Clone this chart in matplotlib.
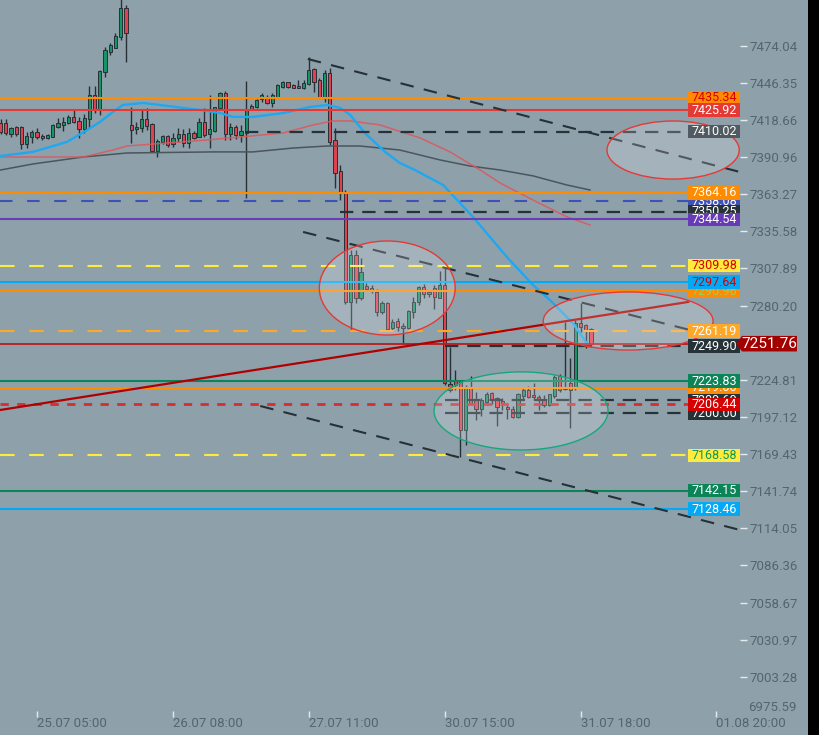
import matplotlib
matplotlib.use("Agg")
import numpy as np
import matplotlib.pyplot as plt
import matplotlib.transforms as mtransforms
from matplotlib.patches import Ellipse, Rectangle, Polygon

plt.rcParams['font.family'] = ['Roboto', 'DejaVu Sans']

# hourly candles (bar index = position)
opens = [7416.4, 7416.4, 7408.2, 7413.4, 7413.4, 7400.7, 7405.9, 7409.7, 7406.7, 7405.2,
         7405.9, 7413.4, 7414.9, 7416.4, 7420.9, 7417.9, 7411.9, 7419.4, 7437.3, 7426.1,
         7454.4, 7469.3, 7472.3, 7480.5, 7502.2, 7414.9, 7411.9, 7412.7, 7419.4, 7415.6,
         7395.5, 7402.2, 7406.7, 7400.7, 7405.2, 7408.2, 7401.5, 7408.9, 7405.9, 7417.1,
         7408.2, 7410.4, 7427.6, 7438.8, 7408.2, 7413.4, 7407.4, 7408.9, 7429.1, 7428.3,
         7434.3, 7435.8, 7431.3, 7435.8, 7443.2, 7447.0, 7444.7, 7444.0, 7442.5, 7445.5,
         7456.7, 7448.5, 7435.8, 7453.7, 7403.7, 7380.6, 7364.2, 7282.9, 7317.9, 7285.8,
         7294.8, 7293.3, 7290.3, 7275.4, 7282.1, 7263.5, 7268.7, 7264.9, 7263.5, 7275.4,
         7282.9, 7294.0, 7289.6, 7293.3, 7285.8, 7295.5, 7221.7, 7223.9, 7223.2, 7187.4,
         7219.5, 7209.8, 7203.0, 7208.3, 7215.0, 7211.3, 7209.0, 7204.5, 7203.0, 7197.1,
         7212.8, 7217.2, 7213.5, 7212.0, 7210.5, 7206.0, 7212.8, 7227.7, 7218.0, 7222.5,
         7218.7, 7267.2, 7265.7, 7262.7]
highs = [7419.4, 7419.4, 7413.4, 7414.1, 7414.1, 7409.7, 7411.2, 7412.7, 7408.2, 7408.2,
         7415.6, 7420.1, 7420.9, 7422.4, 7426.8, 7420.9, 7423.1, 7444.0, 7444.0, 7455.9,
         7473.1, 7476.0, 7483.5, 7510.0, 7504.4, 7428.3, 7417.1, 7426.8, 7427.6, 7416.4,
         7404.4, 7407.4, 7407.4, 7408.9, 7412.7, 7411.9, 7412.7, 7410.4, 7420.1, 7427.6,
         7437.3, 7428.3, 7439.5, 7440.3, 7416.4, 7414.9, 7414.9, 7447.7, 7430.6, 7434.3,
         7438.8, 7437.3, 7438.8, 7445.5, 7447.7, 7447.0, 7445.5, 7448.5, 7448.5, 7465.6,
         7457.4, 7449.9, 7455.9, 7457.4, 7412.7, 7385.1, 7366.4, 7321.6, 7321.6, 7315.7,
         7297.0, 7295.5, 7292.5, 7283.6, 7282.9, 7270.2, 7270.9, 7267.2, 7276.9, 7286.6,
         7294.8, 7296.3, 7291.8, 7295.5, 7306.0, 7308.2, 7249.3, 7232.1, 7223.2, 7221.0,
         7227.7, 7215.7, 7211.3, 7215.7, 7215.7, 7212.0, 7211.3, 7206.0, 7205.3, 7215.0,
         7218.7, 7220.2, 7222.5, 7213.5, 7213.5, 7214.2, 7228.4, 7229.2, 7267.9, 7241.1,
         7269.4, 7282.1, 7266.4, 7263.5]
lows = [7408.2, 7407.4, 7405.9, 7406.7, 7397.0, 7397.7, 7401.5, 7404.4, 7403.7, 7404.4,
        7405.9, 7412.7, 7410.4, 7415.6, 7416.4, 7405.2, 7408.9, 7412.7, 7423.8, 7422.4,
        7450.7, 7467.1, 7472.3, 7478.3, 7461.9, 7401.5, 7408.2, 7409.7, 7411.2, 7394.8,
        7391.0, 7400.7, 7398.5, 7398.5, 7402.2, 7398.5, 7397.7, 7404.4, 7405.9, 7405.9,
        7397.7, 7409.7, 7426.1, 7403.7, 7403.7, 7404.4, 7402.2, 7360.4, 7426.1, 7427.6,
        7432.0, 7430.6, 7428.3, 7435.8, 7442.5, 7442.5, 7442.2, 7442.2, 7441.8, 7444.7,
        7439.5, 7435.0, 7432.0, 7400.0, 7367.9, 7358.9, 7281.4, 7262.7, 7282.1, 7284.4,
        7291.8, 7289.6, 7272.4, 7273.9, 7261.2, 7261.2, 7261.2, 7252.3, 7262.7, 7270.9,
        7280.6, 7285.8, 7286.6, 7277.6, 7285.8, 7221.0, 7215.7, 7217.2, 7167.2, 7176.2,
        7206.8, 7194.8, 7197.8, 7206.0, 7206.8, 7190.4, 7202.3, 7195.6, 7196.3, 7196.3,
        7209.8, 7211.3, 7210.5, 7202.3, 7204.5, 7205.3, 7211.3, 7215.7, 7217.2, 7188.9,
        7217.2, 7260.5, 7248.6, 7249.3]
closes = [7409.7, 7408.9, 7412.7, 7408.2, 7400.7, 7406.7, 7409.7, 7405.9, 7405.2, 7407.4,
          7414.9, 7416.4, 7417.1, 7420.9, 7417.1, 7411.9, 7420.1, 7437.3, 7426.1, 7455.2,
          7470.8, 7474.6, 7481.3, 7502.2, 7483.5, 7411.2, 7413.4, 7419.4, 7414.1, 7395.5,
          7402.9, 7406.7, 7400.0, 7405.2, 7408.2, 7401.5, 7408.9, 7405.2, 7417.1, 7407.4,
          7411.9, 7428.3, 7438.8, 7408.2, 7413.4, 7407.4, 7410.4, 7426.1, 7426.8, 7433.5,
          7437.3, 7431.3, 7437.3, 7444.7, 7447.0, 7443.2, 7442.6, 7442.5, 7446.2, 7455.9,
          7447.0, 7435.8, 7453.7, 7402.2, 7379.1, 7364.2, 7282.9, 7317.9, 7285.8, 7305.2,
          7292.5, 7291.1, 7275.4, 7282.1, 7262.7, 7267.9, 7264.2, 7263.5, 7276.1, 7282.9,
          7294.0, 7288.8, 7288.8, 7286.6, 7295.5, 7222.5, 7217.2, 7221.0, 7187.4, 7219.5,
          7207.5, 7203.0, 7209.8, 7214.2, 7210.5, 7204.5, 7207.5, 7203.0, 7197.1, 7214.2,
          7217.2, 7212.0, 7212.0, 7209.8, 7206.0, 7214.2, 7226.9, 7217.2, 7218.7, 7217.2,
          7267.2, 7264.2, 7261.2, 7251.76]

# moving averages, sampled along the curves (bar index, price)
ma_fast_x = [0, 6.2, 12.7, 16.6, 19.0, 21.5, 23.4, 27.3, 31.9, 38.2, 42.0, 44.5, 48.3, 54.1,
             59.2, 62.5, 65.0, 66.9, 69.7, 73.6, 76.4, 79.3, 84.7, 90.4, 96.9, 101.9, 105.1,
             109.5, 112.4]
ma_fast_y = [7391.8, 7394.8, 7402.2, 7411.2, 7417.1, 7424.6, 7429.8, 7431.3, 7429.1, 7426.1,
             7423.8, 7420.9, 7420.9, 7423.8, 7428.3, 7429.8, 7427.6, 7422.4, 7408.9, 7394.8,
             7386.6, 7381.3, 7370.1, 7346.3, 7316.4, 7295.5, 7284.4, 7267.2, 7250.8]
ma_mid_x = [0, 15.8, 21.5, 24.2, 31.9, 39.5, 45.8, 54.1, 59.8, 63.6, 66.9, 72.6, 80.3, 86.0,
            91.8, 95.6, 101.9, 108.4, 112.8]
ma_mid_y = [7391.0, 7391.0, 7396.2, 7399.2, 7401.5, 7403.7, 7405.9, 7408.9, 7414.9, 7417.9,
            7417.9, 7414.9, 7405.2, 7394.8, 7381.3, 7371.6, 7358.9, 7346.3, 7340.3]
ma_slow_x = [0, 6.2, 15.8, 24.2, 40.7, 48.3, 56.0, 62.5, 68.8, 76.4, 84.1, 89.8, 95.6, 101.9,
             108.4, 112.8]
ma_slow_y = [7381.3, 7385.8, 7391.0, 7394.0, 7394.8, 7394.8, 7397.7, 7399.2, 7399.2, 7396.2,
             7388.8, 7384.3, 7381.3, 7376.9, 7370.1, 7366.4]

# horizontal levels
levels = [7435.34, 7425.92, 7410.02, 7364.16, 7358.08, 7350.25, 7344.54, 7309.98, 7297.64,
          7290.96, 7261.19, 7249.90, 7223.83, 7219.00, 7209.60, 7206.44, 7200.00, 7168.58,
          7142.15, 7128.46]
last_price = 7251.76

# trend lines (bar, price) pairs
trend_lines = [((58.8, 7464.1), (141.5, 7379.8)),
               ((57.9, 7335.1), (131.9, 7262.0)),
               ((49.7, 7205.3), (141.5, 7112.8))]
rising_line = ((-0.1, 7202.3), (131.6, 7282.9))

# ellipses: centre bar, centre price, width (bars), height (price)
zones = [(128.7, 7396.2, 25.3, 43.3, '#e53935'),
         (74.0, 7293.3, 26.0, 70.1, '#e53935'),
         (120.1, 7268.7, 32.5, 43.3, '#e53935'),
         (99.6, 7201.6, 33.3, 58.2, '#16a77b')]

y_ticks = [7474.04, 7446.35, 7418.66, 7390.96, 7363.27, 7335.58, 7307.89, 7280.20, 7224.81,
           7197.12, 7169.43, 7141.74, 7114.05, 7086.36, 7058.67, 7030.97, 7003.28]
y_bottom_label = 6975.59
x_tick_bars = [7, 33, 59, 85, 111, 137]
x_tick_labels = ['25.07 05:00', '26.07 08:00', '27.07 11:00', '30.07 15:00', '31.07 18:00',
                 '01.08 20:00']

BG = '#8ea1ab'
GREEN = '#159466'
RED = '#e0414f'
WICK = '#283036'
DARK = '#263238'
AXIS_TXT = '#56646c'

fig = plt.figure(figsize=(8.19, 7.35), dpi=100, facecolor=BG)
ax = fig.add_axes([0, 0, 740 / 819, 1], facecolor=BG)
ax.set_xlim(-0.1, 141.5)
ax.set_ylim(6959.9, 7508.1)
for s in ax.spines.values():
    s.set_visible(False)

# candles
o = np.array(opens)
h = np.array(highs)
l = np.array(lows)
c = np.array(closes)
idx = np.arange(len(o))
cols = np.where(c >= o, GREEN, RED)
ax.vlines(idx, l, h, color=WICK, lw=1.0, zorder=2)
ax.bar(idx, np.maximum(np.abs(c - o), 1.2), bottom=np.minimum(o, c), width=0.62,
       color=cols, edgecolor=WICK, linewidth=0.7, zorder=2.1)

# moving averages
ax.plot(ma_slow_x, ma_slow_y, color='#4b555c', lw=1.1, zorder=3)
ax.plot(ma_mid_x, ma_mid_y, color='#e0555a', lw=1.1, alpha=0.85, zorder=3)
ax.plot(ma_fast_x, ma_fast_y, color='#1ea8f2', lw=1.7, zorder=3.1)

# level styles: colour, style, start (axes frac), box colour, text colour, box zorder
ORANGE = '#ff8c00'
level_style = [
    (ORANGE, 'solid', 0.0, ORANGE, '#d50000', 9),
    ('#e53935', 'solid', 0.0, '#e53935', 'white', 9),
    (DARK, 'dash', 0.331, '#505a60', 'white', 9),
    (ORANGE, 'solid', 0.0, ORANGE, 'white', 9),
    ('#3f51b5', 'bluedash', 0.0, '#3f51b5', 'white', 8),
    (DARK, 'dash', 0.459, DARK, 'white', 8.5),
    ('#6a3db8', 'solid', 0.0, '#673ab7', 'white', 9),
    ('#ffeb3b', 'ydash', 0.0, '#ffeb3b', '#d50000', 9),
    ('#03a9f4', 'solid', 0.0, '#03a9f4', '#d50000', 9),
    (ORANGE, 'solid', 0.0, ORANGE, '#9ccc65', 8),
    ('#ffa726', 'ydash', 0.0, '#ffa726', 'white', 9),
    (DARK, 'dash', 0.601, DARK, 'white', 8),
    ('#0b8457', 'solid', 0.0, '#0b8457', 'white', 9),
    (ORANGE, 'solid', 0.0, ORANGE, 'white', 8),
    (DARK, 'dash', 0.601, DARK, 'white', 8),
    ('#d32f2f', 'rdash', 0.0, '#d50000', 'white', 9),
    (DARK, 'dash', 0.601, DARK, 'white', 8),
    ('#ffeb3b', 'ydash', 0.0, '#ffeb3b', '#0b9a5a', 9),
    ('#0b8457', 'solid', 0.0, '#0b8457', 'white', 9),
    ('#03a9f4', 'solid', 0.0, '#03a9f4', 'white', 9),
]
dash_map = {'dash': (6, 4), 'bluedash': (6, 7), 'ydash': (7, 7), 'rdash': (3, 3)}
lw_map = {'solid': 1.5, 'dash': 1.6, 'bluedash': 1.5, 'ydash': 1.5, 'rdash': 2.0}

XEND = 688 / 740
trans = mtransforms.blended_transform_factory(ax.transAxes, ax.transData)
box_h = 10.0
for lev, (col, st, x0, bc, tc, zb) in zip(levels, level_style):
    if st == 'solid':
        ax.axhline(lev, xmin=x0, xmax=XEND, color=col, lw=lw_map[st], zorder=4)
    else:
        ax.axhline(lev, xmin=x0, xmax=XEND, color=col, lw=lw_map[st], zorder=4,
                   dashes=dash_map[st])
    ax.add_patch(Rectangle((XEND, lev - box_h / 2), 1 - XEND, box_h, transform=trans,
                           facecolor=bc, edgecolor='none', zorder=zb))
    ax.text((XEND + 1) / 2, lev, f'{lev:.2f}', transform=trans, ha='center',
            va='center', color=tc, fontsize=9, zorder=zb + 0.05)

# last price line
ax.axhline(last_price, xmin=0, xmax=XEND, color='#b71c1c', lw=1.3, zorder=4.2)

# trend lines
for (xa, ya), (xb, yb) in trend_lines:
    ax.plot([xa, xb], [ya, yb], color='#263036', lw=1.5, dashes=(6.5, 5), zorder=4.5)
ax.plot([rising_line[0][0], rising_line[1][0]], [rising_line[0][1], rising_line[1][1]],
        color='#b00000', lw=1.6, zorder=4.5)

# zones
for cx, cy, w, hh, ec in zones:
    ax.add_patch(Ellipse((cx, cy), w, hh, facecolor=(1, 1, 1, 0.2), edgecolor=ec,
                         lw=1.0, zorder=6))

# last price tag on the axis
ph = 5.8
tag = Polygon([(0.9946, last_price), (1.0027, last_price + ph), (1.077, last_price + ph),
               (1.077, last_price - ph), (1.0027, last_price - ph)], closed=True,
              transform=trans, facecolor='#a30000', edgecolor='none', zorder=10,
              clip_on=False)
ax.add_patch(tag)
ax.text(1.040, last_price, f'{last_price:.2f}', transform=trans, ha='center', va='center',
        color='white', fontsize=11, zorder=11, clip_on=False)

# axes ticks
ax.yaxis.tick_right()
ax.set_yticks(y_ticks)
ax.set_yticklabels([f'{v:.2f}' for v in y_ticks])
ax.tick_params(axis='y', direction='out', length=5, width=1, color='#e4eaee',
               labelcolor=AXIS_TXT, labelsize=9.5, pad=2)
# lowest price label sits a little higher, clear of the time scale
up_shift = mtransforms.ScaledTranslation(0, 0.06, fig.dpi_scale_trans)
ax.text(748 / 740, y_bottom_label, f'{y_bottom_label:.2f}', transform=trans + up_shift,
        ha='left', va='center', color=AXIS_TXT, fontsize=9.5, clip_on=False)

ax.spines['bottom'].set_position(('axes', 1 - 711 / 735))
ax.set_xticks(x_tick_bars)
ax.set_xticklabels(x_tick_labels)
ax.tick_params(axis='x', direction='out', length=4, width=1, color='#e4eaee',
               labelcolor=AXIS_TXT, labelsize=9.5, pad=0)
for lbl in ax.get_xticklabels():
    lbl.set_ha('left')

# black strip at the right edge
fig.add_artist(Rectangle((808 / 819, 0), 11 / 819, 1, transform=fig.transFigure,
                         facecolor='black', edgecolor='none'))

fig.savefig('out.png', dpi=100, facecolor=BG)
